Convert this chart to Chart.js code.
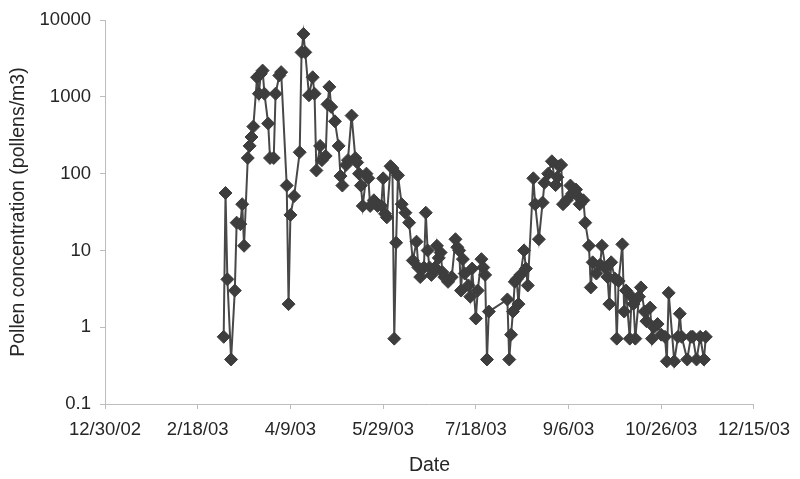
<!DOCTYPE html>
<html>
<head>
<meta charset="utf-8">
<script src="https://cdn.jsdelivr.net/npm/chart.js@4/dist/chart.umd.min.js"></script>
<style>
  html, body { margin: 0; padding: 0; background: #ffffff; }
  #wrap { width: 800px; height: 479px; }
</style>
</head>
<body>
<div id="wrap"><canvas id="c" width="800" height="479"></canvas></div>
<script>
// ---- data ----
const startDate = '2002-12-30';
const xTickLabels = ['12/30/02', '2/18/03', '4/9/03', '5/29/03', '7/18/03', '9/6/03', '10/26/03', '12/15/03'];
const yTickValues = [0.1, 1, 10, 100, 1000, 10000];
const yTickLabels = ['0.1', '1', '10', '100', '1000', '10000'];

const dates = [
  '2003-03-04','2003-03-05','2003-03-06','2003-03-08','2003-03-10','2003-03-11','2003-03-13','2003-03-14','2003-03-15','2003-03-17','2003-03-18','2003-03-19','2003-03-20','2003-03-22','2003-03-23','2003-03-24','2003-03-25','2003-03-26','2003-03-28','2003-03-29','2003-03-31',
  '2003-04-01','2003-04-03','2003-04-04','2003-04-07','2003-04-08','2003-04-09','2003-04-11','2003-04-14','2003-04-15','2003-04-16','2003-04-17','2003-04-19','2003-04-21','2003-04-22','2003-04-23','2003-04-25','2003-04-26','2003-04-28','2003-04-29','2003-04-30',
  '2003-05-01','2003-05-03','2003-05-05','2003-05-06','2003-05-07','2003-05-09','2003-05-10','2003-05-12','2003-05-14','2003-05-15','2003-05-16','2003-05-17','2003-05-18','2003-05-20','2003-05-21','2003-05-22','2003-05-24','2003-05-25','2003-05-26','2003-05-28','2003-05-29','2003-05-30','2003-05-31',
  '2003-06-02','2003-06-03','2003-06-04','2003-06-05','2003-06-06','2003-06-08','2003-06-10','2003-06-12','2003-06-14','2003-06-16','2003-06-17','2003-06-18','2003-06-20','2003-06-21','2003-06-22','2003-06-23','2003-06-24','2003-06-26','2003-06-27','2003-06-28','2003-06-29','2003-06-30',
  '2003-07-01','2003-07-03','2003-07-05','2003-07-07','2003-07-08','2003-07-09','2003-07-10','2003-07-11','2003-07-12','2003-07-14','2003-07-15','2003-07-16','2003-07-18','2003-07-19','2003-07-21','2003-07-22','2003-07-23','2003-07-24','2003-07-25',
  '2003-08-04','2003-08-05','2003-08-06','2003-08-07','2003-08-08','2003-08-09','2003-08-10','2003-08-11','2003-08-13','2003-08-14','2003-08-15','2003-08-18','2003-08-19','2003-08-21','2003-08-23','2003-08-24','2003-08-26','2003-08-28','2003-08-30','2003-08-31',
  '2003-09-01','2003-09-02','2003-09-03','2003-09-05','2003-09-07','2003-09-08','2003-09-10','2003-09-11','2003-09-12','2003-09-14','2003-09-15','2003-09-17','2003-09-18','2003-09-19','2003-09-21','2003-09-23','2003-09-24','2003-09-26','2003-09-27','2003-09-28','2003-09-29',
  '2003-10-01','2003-10-02','2003-10-03','2003-10-05','2003-10-06','2003-10-07','2003-10-09','2003-10-10','2003-10-11','2003-10-12','2003-10-14','2003-10-15','2003-10-17','2003-10-18','2003-10-20','2003-10-21','2003-10-22','2003-10-24','2003-10-26','2003-10-28','2003-10-29','2003-10-30',
  '2003-11-02','2003-11-04','2003-11-05','2003-11-06','2003-11-09','2003-11-11','2003-11-12','2003-11-14','2003-11-16','2003-11-18','2003-11-19'
];

const pollen = [
  0.75, 56, 4.2, 0.38, 3, 23, 22, 40, 11.5, 160, 230, 300, 410, 1800, 1100, 2000, 2200, 1100, 450, 160, 160,
  1100, 1900, 2100, 70, 2.0, 29, 51, 190, 3800, 6600, 3800, 1050, 1800, 1100, 110, 230, 150, 170, 800, 1350,
  740, 480, 230, 93, 70, 130, 150, 570, 160, 140, 100, 70, 38, 100, 87, 38, 45, 42, 38, 38, 87, 30, 27,
  125, 118, 0.71, 12.6, 95, 40, 31, 23, 7.4, 13, 6, 4.5, 6, 31, 10, 6, 4.8, 6, 11.5, 8, 9.4, 5.2,
  4.5, 3.9, 4.5, 14, 11, 10, 3, 7.7, 5, 3.5, 2.5, 5.8, 1.3, 3, 7.7, 6, 4.8, 0.38, 1.6,
  2.3, 0.38, 0.8, 1.6, 3.9, 4.2, 2, 4.8, 10, 5.8, 3.5, 87, 40, 14, 42, 76, 100, 145, 71, 90,
  125, 130, 40, 45, 70, 55, 62, 51, 40, 45, 23, 11.5, 3.3, 7, 5, 6.5, 11.5, 5.8, 4.5, 2.0, 7,
  4.3, 0.71, 4, 12, 1.6, 3.0, 0.71, 2.5, 2.0, 0.71, 2.5, 3.3, 1.6, 1.2, 1.8, 0.71, 1.0, 1.1, 0.8, 0.75, 0.36, 2.8,
  0.36, 0.75, 1.5, 0.75, 0.38, 0.75, 0.75, 0.38, 0.75, 0.38, 0.75
];

// ---- helpers ----
function dayOffset(iso) {
  const p = iso.split('-').map(Number);
  const s = startDate.split('-').map(Number);
  return Math.round((Date.UTC(p[0], p[1] - 1, p[2]) - Date.UTC(s[0], s[1] - 1, s[2])) / 86400000);
}
const points = dates.map((d, i) => ({ x: dayOffset(d), y: pollen[i] }));
const xStep = 50;
const xMax = xStep * (xTickLabels.length - 1);

const textColor = '#262626';
const axisColor = '#bdbdbd';
const markColor = '#3d3d3d';
const tickFont = { family: '"Liberation Sans", Arial, sans-serif', size: 18.5 };
const titleFont = { family: '"Liberation Sans", Arial, sans-serif', size: 19.5 };

new Chart(document.getElementById('c'), {
  type: 'line',
  data: {
    datasets: [{
      data: points,
      borderColor: '#484848',
      borderWidth: 2,
      backgroundColor: markColor,
      pointStyle: 'rectRot',
      pointRadius: 6.5,
      pointBackgroundColor: markColor,
      pointBorderColor: markColor,
      pointBorderWidth: 1,
      tension: 0,
      fill: false
    }]
  },
  options: {
    responsive: false,
    animation: false,
    events: [],
    layout: { padding: { left: 0, right: 42, top: 16, bottom: 0 } },
    plugins: { legend: { display: false }, tooltip: { enabled: false } },
    scales: {
      x: {
        type: 'linear',
        min: 0,
        max: xMax,
        afterFit: s => { s.height = 75; },
        afterBuildTicks: s => { s.ticks = xTickLabels.map((_, i) => ({ value: i * xStep })); },
        ticks: {
          autoSkip: false,
          maxRotation: 0,
          minRotation: 0,
          padding: 10,
          color: textColor,
          font: tickFont,
          callback: (v, i) => xTickLabels[i]
        },
        grid: { drawOnChartArea: false, drawTicks: true, tickLength: 5, color: axisColor, lineWidth: 1 },
        border: { display: true, color: axisColor, width: 1 },
        title: { display: true, text: 'Date', color: textColor, font: titleFont, padding: { top: 0, bottom: 2 } }
      },
      y: {
        type: 'logarithmic',
        min: yTickValues[0],
        max: yTickValues[yTickValues.length - 1],
        afterFit: s => { s.width = 105; },
        afterBuildTicks: s => { s.ticks = yTickValues.map(v => ({ value: v })); },
        ticks: {
          autoSkip: false,
          padding: 9,
          color: textColor,
          font: tickFont,
          callback: (v) => { const i = yTickValues.indexOf(v); return i >= 0 ? yTickLabels[i] : ''; }
        },
        grid: { drawOnChartArea: false, drawTicks: true, tickLength: 5, color: axisColor, lineWidth: 1 },
        border: { display: true, color: axisColor, width: 1 },
        title: { display: true, text: 'Pollen concentration (pollens/m3)', color: textColor, font: titleFont, padding: { top: 7, bottom: 0 } }
      }
    }
  }
});
</script>
</body>
</html>
